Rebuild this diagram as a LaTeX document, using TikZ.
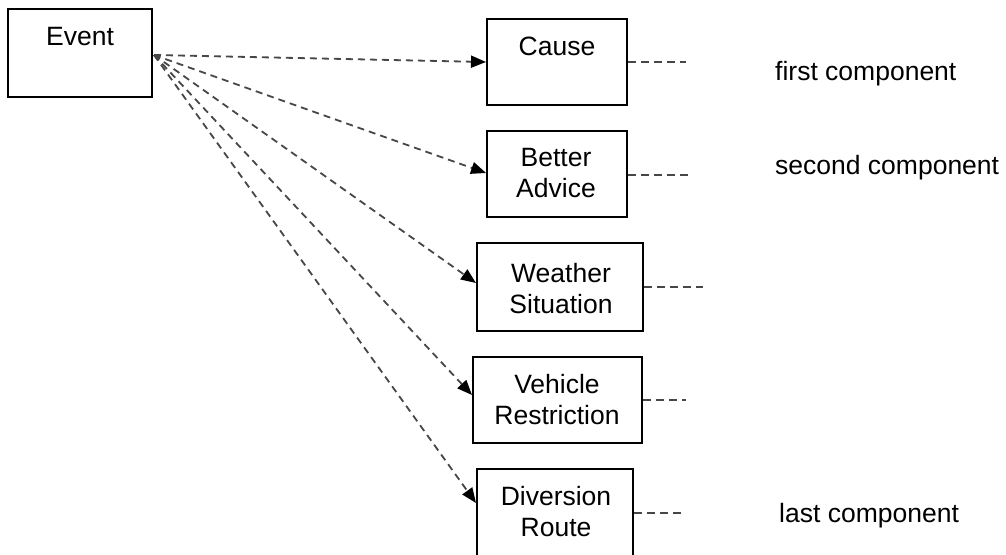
\documentclass[tikz,border=0pt]{standalone}
\usepackage{fontspec}
\setmainfont{Liberation Sans}
\usetikzlibrary{arrows.meta}
\begin{document}
\begin{tikzpicture}[x=1pt,y=-1pt,
  box/.style={draw, line width=2pt, inner sep=0pt},
  txt/.style={font=\fontsize{26.5}{31}\selectfont, inner sep=0pt, align=center},
  lbl/.style={font=\fontsize{26.5}{31}\selectfont, inner sep=0pt, anchor=base west},
  link/.style={dash pattern=on 7pt off 5pt, line width=1.8pt, draw=black!72,
    -{Triangle[length=15pt,width=12pt,fill=black,color=black]}},
  tailline/.style={dash pattern=on 8pt off 5pt, line width=1.8pt, draw=black!72}]
\useasboundingbox (0,0) rectangle (1006,554);

% boxes
\node[box, minimum width=144pt, minimum height=88pt] (event) at (80,53) {};
\node[box, minimum width=140pt, minimum height=86pt] (cause) at (557,62) {};
\node[box, minimum width=140pt, minimum height=86pt] (better) at (557,174) {};
\node[box, minimum width=166pt, minimum height=88pt] (weather) at (560,287) {};
\node[box, minimum width=169pt, minimum height=86pt] (vehicle) at (557.5,400) {};
\node[box, minimum width=156pt, minimum height=90pt] (diversion) at (555,514) {};

% texts
\node[txt, anchor=base] (eventT) at (80,45) {Event};
\node[txt, anchor=base] (causeT) at (557,55) {Cause};
\node[txt, anchor=north] (betterT) at (556,148) {Better\\Advice};
\node[txt, anchor=north] (weatherT) at (561,263) {Weather\\Situation};
\node[txt, anchor=north] (vehicleT) at (557,374) {Vehicle\\Restriction};
\node[txt, anchor=north] (diversionT) at (556,486) {Diversion\\Route};

% labels
\node[lbl] (first) at (775,80) {first component};
\node[lbl] (second) at (775,174) {second component};
\node[lbl] (last) at (779,522) {last component};

% arrows from event
\coordinate (src) at (154,55);
\draw[link] (src) -- (cause.west);
\draw[link] (src) -- ([yshift=1pt]better.west);
\draw[link] (src) -- ([yshift=4pt]weather.west);
\draw[link] (src) -- ([yshift=5pt]vehicle.west);
\draw[link] (src) -- ([yshift=11pt]diversion.west);

% dashed tails
\coordinate (c1) at (686,62);
\coordinate (c2) at (689,175);
\coordinate (c3) at (703,287);
\coordinate (c4) at (686,400);
\coordinate (c5) at (685,513);
\draw[tailline] (cause.east) -- (c1);
\draw[tailline] (better.east |- c2) -- (c2);
\draw[tailline] (weather.east) -- (c3);
\draw[tailline] (vehicle.east) -- (c4);
\draw[tailline] (diversion.east |- c5) -- (c5);
\end{tikzpicture}
\end{document}
